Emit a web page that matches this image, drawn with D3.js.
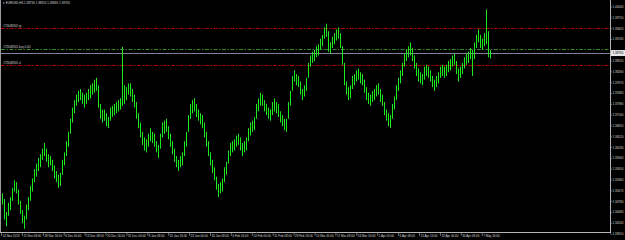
<!DOCTYPE html>
<html>
<head>
<meta charset="utf-8">
<script src="https://cdn.jsdelivr.net/npm/d3@7"></script>
<style>
body { margin: 0; background: #000; }
svg { display: block; }
text { font-family: "Liberation Sans", Arial, sans-serif; }
</style>
</head>
<body>
<div id="chart"></div>
<script>
// EURUSD H4 - each entry below is one bar (about 3 H4 bars)
var highs = [
  1.3500,1.3485,1.3450,1.3475,1.3490,1.3515,1.3535,1.3530,1.3510,1.3480,
  1.3455,1.3440,1.3470,1.3490,1.3520,1.3540,1.3565,1.3580,1.3595,1.3605,
  1.3620,1.3635,1.3620,1.3605,1.3600,1.3590,1.3575,1.3560,1.3550,1.3555,
  1.3590,1.3610,1.3640,1.3665,1.3700,1.3730,1.3750,1.3765,1.3775,1.3780,
  1.3770,1.3765,1.3770,1.3780,1.3790,1.3795,1.3805,1.3810,1.3790,1.3740,
  1.3725,1.3725,1.3715,1.3705,1.3730,1.3735,1.3740,1.3745,1.3750,1.3755,
  1.3893,1.3790,1.3785,1.3795,1.3795,1.3780,1.3765,1.3745,1.3715,1.3690,
  1.3665,1.3650,1.3645,1.3660,1.3675,1.3665,1.3660,1.3640,1.3630,1.3660,
  1.3690,1.3695,1.3700,1.3680,1.3660,1.3640,1.3620,1.3600,1.3590,1.3600,
  1.3610,1.3640,1.3665,1.3710,1.3740,1.3750,1.3755,1.3740,1.3725,1.3715,
  1.3710,1.3690,1.3665,1.3640,1.3610,1.3590,1.3570,1.3545,1.3525,1.3530,
  1.3540,1.3570,1.3585,1.3615,1.3635,1.3640,1.3645,1.3655,1.3660,1.3650,
  1.3635,1.3640,1.3650,1.3675,1.3690,1.3695,1.3705,1.3740,1.3755,1.3770,
  1.3765,1.3750,1.3740,1.3730,1.3725,1.3745,1.3755,1.3745,1.3740,1.3720,
  1.3710,1.3700,1.3700,1.3745,1.3775,1.3815,1.3830,1.3820,1.3815,1.3800,
  1.3780,1.3790,1.3810,1.3850,1.3870,1.3880,1.3885,1.3895,1.3900,1.3915,
  1.3925,1.3945,1.3955,1.3935,1.3905,1.3920,1.3930,1.3940,1.3945,1.3930,
  1.3895,1.3850,1.3800,1.3785,1.3790,1.3815,1.3820,1.3830,1.3835,1.3825,
  1.3820,1.3805,1.3785,1.3770,1.3765,1.3775,1.3780,1.3790,1.3795,1.3780,
  1.3765,1.3745,1.3725,1.3715,1.3710,1.3740,1.3760,1.3790,1.3810,1.3830,
  1.3850,1.3875,1.3885,1.3895,1.3905,1.3890,1.3870,1.3850,1.3835,1.3825,
  1.3820,1.3840,1.3845,1.3840,1.3830,1.3815,1.3805,1.3815,1.3825,1.3840,
  1.3845,1.3840,1.3845,1.3855,1.3860,1.3870,1.3875,1.3855,1.3835,1.3840,
  1.3850,1.3865,1.3875,1.3880,1.3890,1.3885,1.3905,1.3925,1.3940,1.3925,
  1.3915,1.3930,1.3993,1.3935,1.3885
];
var lows = [
  1.3470,1.3430,1.3412,1.3440,1.3455,1.3480,1.3505,1.3500,1.3470,1.3445,
  1.3420,1.3405,1.3430,1.3455,1.3480,1.3505,1.3530,1.3545,1.3560,1.3570,
  1.3590,1.3600,1.3585,1.3570,1.3575,1.3560,1.3540,1.3530,1.3515,1.3520,
  1.3550,1.3575,1.3600,1.3625,1.3660,1.3690,1.3715,1.3735,1.3745,1.3750,
  1.3740,1.3730,1.3740,1.3750,1.3755,1.3765,1.3770,1.3775,1.3730,1.3700,
  1.3690,1.3695,1.3680,1.3675,1.3695,1.3705,1.3710,1.3715,1.3720,1.3725,
  1.3735,1.3740,1.3750,1.3765,1.3760,1.3745,1.3730,1.3700,1.3675,1.3650,
  1.3630,1.3615,1.3610,1.3625,1.3640,1.3635,1.3625,1.3610,1.3595,1.3620,
  1.3650,1.3660,1.3665,1.3645,1.3625,1.3605,1.3585,1.3570,1.3560,1.3570,
  1.3575,1.3600,1.3625,1.3665,1.3700,1.3715,1.3720,1.3705,1.3695,1.3685,
  1.3675,1.3650,1.3625,1.3600,1.3575,1.3555,1.3535,1.3510,1.3490,1.3500,
  1.3505,1.3530,1.3550,1.3580,1.3600,1.3610,1.3615,1.3625,1.3630,1.3615,
  1.3600,1.3610,1.3615,1.3640,1.3655,1.3665,1.3670,1.3700,1.3720,1.3735,
  1.3735,1.3720,1.3710,1.3700,1.3695,1.3710,1.3720,1.3715,1.3705,1.3690,
  1.3680,1.3670,1.3665,1.3700,1.3735,1.3775,1.3800,1.3790,1.3785,1.3765,
  1.3750,1.3760,1.3775,1.3810,1.3840,1.3850,1.3855,1.3865,1.3870,1.3885,
  1.3895,1.3915,1.3920,1.3880,1.3875,1.3890,1.3900,1.3910,1.3915,1.3890,
  1.3845,1.3790,1.3765,1.3750,1.3755,1.3780,1.3790,1.3800,1.3805,1.3795,
  1.3790,1.3770,1.3750,1.3740,1.3735,1.3745,1.3750,1.3760,1.3765,1.3745,
  1.3735,1.3710,1.3695,1.3680,1.3675,1.3700,1.3725,1.3750,1.3775,1.3795,
  1.3815,1.3840,1.3855,1.3865,1.3870,1.3855,1.3835,1.3815,1.3800,1.3795,
  1.3790,1.3805,1.3815,1.3810,1.3800,1.3785,1.3775,1.3785,1.3795,1.3810,
  1.3815,1.3810,1.3815,1.3825,1.3830,1.3840,1.3845,1.3820,1.3800,1.3810,
  1.3820,1.3835,1.3845,1.3850,1.3860,1.3815,1.3860,1.3890,1.3905,1.3890,
  1.3885,1.3895,1.3900,1.3865,1.3862
];

// bottom axis labels, one every 32 H4 bars
var timeLabels = [
  "14 Nov 2013", "21 Nov 08:00", "28 Nov 16:00", "6 Dec 00:00", "13 Dec 08:00",
  "20 Dec 16:00", "31 Dec 00:00", "8 Jan 08:00", "15 Jan 16:00", "23 Jan 00:00",
  "30 Jan 08:00", "6 Feb 16:00", "14 Feb 00:00", "21 Feb 08:00", "28 Feb 16:00",
  "10 Mar 00:00", "17 Mar 08:00", "24 Mar 16:00", "1 Apr 00:00", "8 Apr 08:00",
  "15 Apr 16:00", "23 Apr 00:00", "30 Apr 08:00", "7 May 16:00"
];

// right axis prices
var priceTicks = [
  1.40000, 1.39710, 1.39420, 1.39130, 1.38840, 1.38550, 1.38260, 1.37970,
  1.37680, 1.37390, 1.37100, 1.36810, 1.36520, 1.36230, 1.35940, 1.35650,
  1.35360, 1.35070, 1.34780, 1.34490, 1.34200, 1.33910
];

// open order lines
var orderPrices = [1.39440, 1.38870, 1.38440];
var orderTypes = ["tp", "buy", "sl"];
var orderNames = ["#72648301 tp", "#72648301 buy 0.40", "#72648301 sl"];

var bid = 1.38765;
var header = "EURUSD,H4  1.38730 1.38810 1.38690 1.38765";

// svg size and plot area
var svgWidth = 625;
var svgHeight = 240;
var plotRight = 610;
var plotBottom = 232;

var svg = d3.select("#chart").append("svg")
    .attr("width", svgWidth)
    .attr("height", svgHeight)
    .style("background", "#000");

// scales
var xScale = d3.scaleLinear()
    .domain([0, highs.length])
    .range([2, 2 + 2 * highs.length]);

var yScale = d3.scaleLinear()
    .domain([priceTicks[priceTicks.length - 1], priceTicks[0]])
    .range([234, 7]);

var barsPerLabel = 10.45;

// left border
svg.append("line")
    .attr("x1", 0.5).attr("x2", 0.5)
    .attr("y1", 0).attr("y2", plotBottom)
    .attr("stroke", "#9a9a9a")
    .attr("stroke-width", 1);

// order lines
var orderStyle = {
    tp: { color: "#b00000", dash: "4,1.5,1.5,1.5" },
    sl: { color: "#b00000", dash: "4,1.5,1.5,1.5" },
    buy: { color: "#2f8a2f", dash: "4,1.5,1.5,1.5" }
};

svg.selectAll(".order")
    .data(orderPrices)
    .enter()
    .append("line")
    .attr("x1", 1).attr("x2", plotRight)
    .attr("y1", d => Math.round(yScale(d)) + 0.5)
    .attr("y2", d => Math.round(yScale(d)) + 0.5)
    .attr("stroke", (d, i) => orderStyle[orderTypes[i]].color)
    .attr("stroke-dasharray", (d, i) => orderStyle[orderTypes[i]].dash)
    .attr("stroke-width", 1);

svg.selectAll(".orderText")
    .data(orderPrices)
    .enter()
    .append("text")
    .attr("x", 3)
    .attr("y", d => yScale(d) - 1.2)
    .attr("font-size", "3px")
    .attr("fill", "#d8d8d8")
    .text((d, i) => orderNames[i]);

// bid line
svg.append("line")
    .attr("x1", 1).attr("x2", plotRight)
    .attr("y1", Math.round(yScale(bid)) + 0.5)
    .attr("y2", Math.round(yScale(bid)) + 0.5)
    .attr("stroke", "#7a8494")
    .attr("stroke-width", 1);

// price bars (half-pixel offset keeps each 1px bar crisp)
svg.selectAll(".bar")
    .data(highs)
    .enter()
    .append("line")
    .attr("x1", (d, i) => xScale(i) + 0.5)
    .attr("x2", (d, i) => xScale(i) + 0.5)
    .attr("y1", d => yScale(d))
    .attr("y2", (d, i) => yScale(lows[i]))
    .attr("stroke", "#1ee81e")
    .attr("stroke-width", 1);

// header text
svg.append("text")
    .attr("x", 3)
    .attr("y", 4)
    .attr("font-size", "3px")
    .attr("fill", "#d8d8d8")
    .text("\u25BE " + header);

// right axis
svg.append("line")
    .attr("x1", plotRight + 0.5).attr("x2", plotRight + 0.5)
    .attr("y1", 0).attr("y2", plotBottom + 1)
    .attr("stroke", "#b4b4b4");

var visibleTicks = priceTicks.filter(p => Math.abs(yScale(p) - yScale(bid)) > 5);

svg.selectAll(".ptick")
    .data(visibleTicks)
    .enter()
    .append("line")
    .attr("x1", plotRight).attr("x2", plotRight + 2)
    .attr("y1", d => yScale(d)).attr("y2", d => yScale(d))
    .attr("stroke", "#b4b4b4")
    .attr("stroke-width", 0.6);

svg.selectAll(".plabel")
    .data(visibleTicks)
    .enter()
    .append("text")
    .attr("x", plotRight + 2.5)
    .attr("y", d => yScale(d) + 1)
    .attr("font-size", "3px")
    .attr("fill", "#d8d8d8")
    .text(d => d.toFixed(5));

// current price box
svg.append("rect")
    .attr("x", plotRight + 1)
    .attr("y", yScale(bid) - 3)
    .attr("width", 14)
    .attr("height", 6)
    .attr("fill", "#e8e8e8");

svg.append("text")
    .attr("x", plotRight + 2.5)
    .attr("y", yScale(bid) + 1)
    .attr("font-size", "3px")
    .attr("fill", "#000")
    .text(bid.toFixed(5));

// bottom axis
svg.append("line")
    .attr("x1", 0).attr("x2", plotRight + 1)
    .attr("y1", plotBottom + 0.5).attr("y2", plotBottom + 0.5)
    .attr("stroke", "#b4b4b4");

svg.selectAll(".ttick")
    .data(timeLabels)
    .enter()
    .append("line")
    .attr("x1", (d, i) => xScale(i * barsPerLabel) - 0.5)
    .attr("x2", (d, i) => xScale(i * barsPerLabel) - 0.5)
    .attr("y1", plotBottom).attr("y2", plotBottom + 4)
    .attr("stroke", "#b4b4b4")
    .attr("stroke-width", 0.6);

svg.selectAll(".tlabel")
    .data(timeLabels)
    .enter()
    .append("text")
    .attr("x", (d, i) => xScale(i * barsPerLabel) + 0.5)
    .attr("y", plotBottom + 4.5)
    .attr("font-size", "3px")
    .attr("fill", "#d8d8d8")
    .text(d => d);
</script>
</body>
</html>
